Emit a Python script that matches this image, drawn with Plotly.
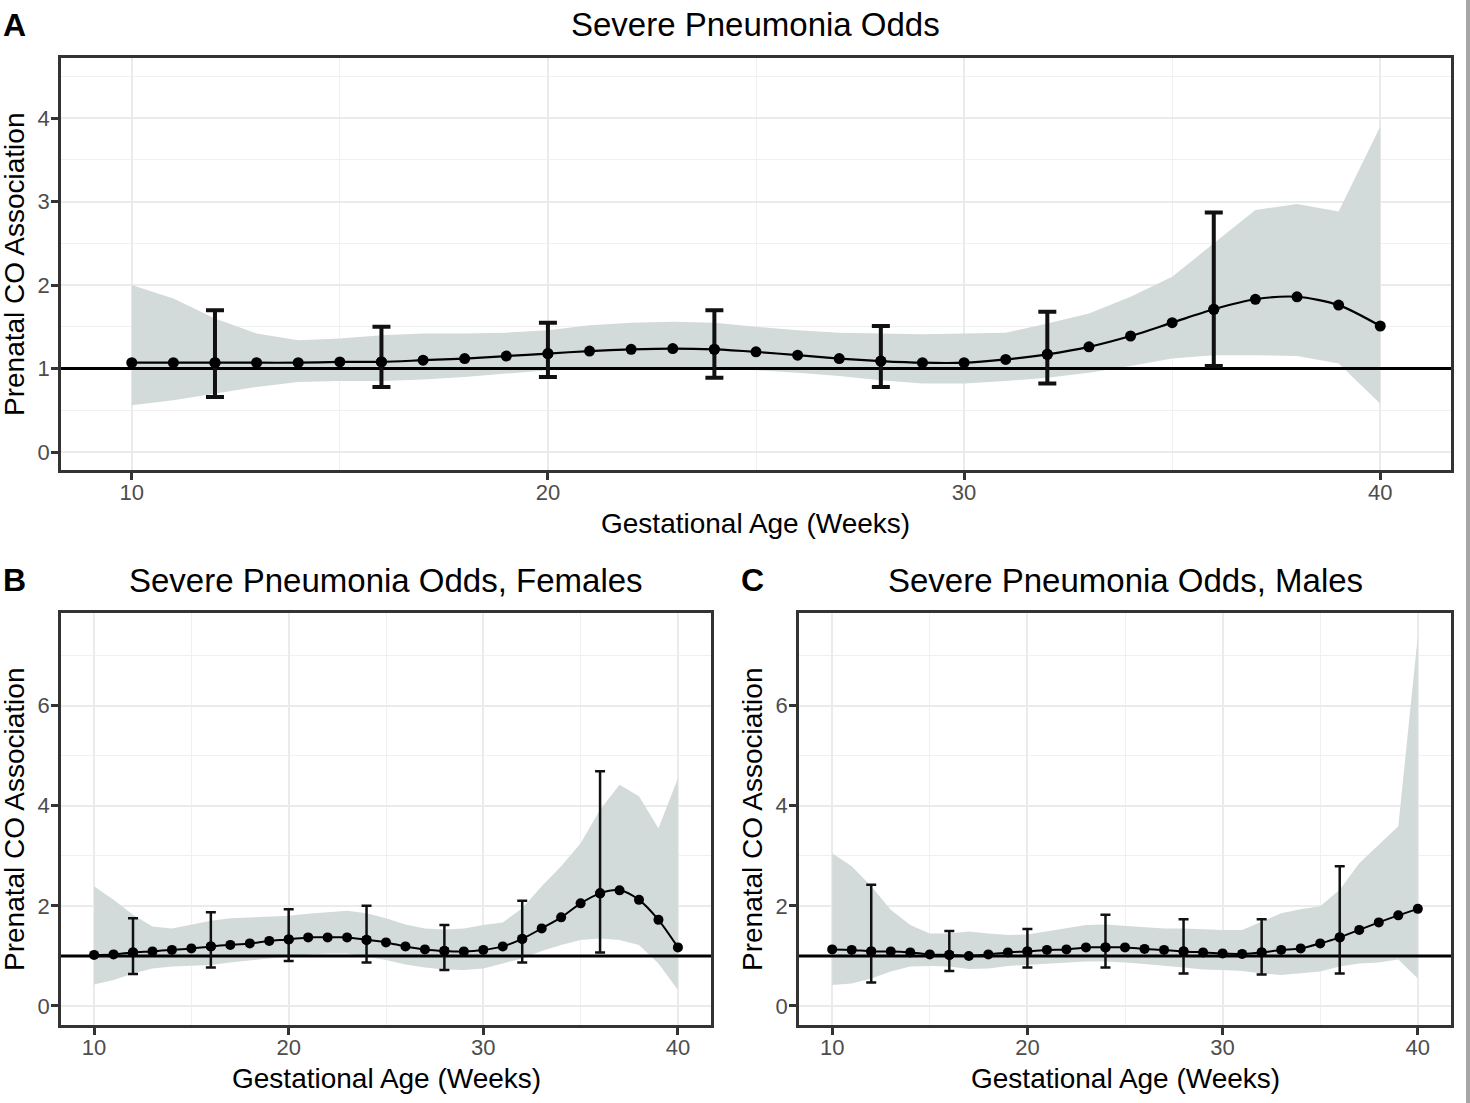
import plotly.graph_objects as go

# ---------------- data ----------------
weeks = list(range(10, 41))

# Panel A: all
a_est = [1.07, 1.07, 1.07, 1.07, 1.07, 1.08, 1.08, 1.10, 1.12, 1.15, 1.18, 1.21, 1.23, 1.24, 1.23,
         1.20, 1.16, 1.12, 1.09, 1.07, 1.07, 1.11, 1.17, 1.26, 1.39, 1.55, 1.71, 1.83, 1.86, 1.76, 1.51]
a_upper = [2.00, 1.84, 1.60, 1.42, 1.34, 1.36, 1.40, 1.42, 1.42, 1.43, 1.46, 1.52, 1.55, 1.56, 1.55,
           1.50, 1.46, 1.43, 1.42, 1.41, 1.42, 1.43, 1.54, 1.66, 1.86, 2.10, 2.50, 2.90, 2.97, 2.88, 3.90]
a_lower = [0.56, 0.62, 0.70, 0.78, 0.84, 0.85, 0.85, 0.87, 0.90, 0.94, 0.98, 1.00, 1.02, 1.02, 1.00,
           0.98, 0.95, 0.91, 0.86, 0.82, 0.82, 0.85, 0.89, 0.95, 1.03, 1.12, 1.16, 1.16, 1.15, 1.06, 0.58]

err_weeks = [12, 16, 20, 24, 28, 32, 36]
a_err_hi = [1.70, 1.50, 1.55, 1.70, 1.51, 1.68, 2.87]
a_err_lo = [0.66, 0.78, 0.90, 0.89, 0.78, 0.82, 1.03]

# Panel B: females
b_est = [1.02, 1.03, 1.07, 1.09, 1.12, 1.15, 1.19, 1.22, 1.25, 1.30, 1.33, 1.37, 1.37, 1.37, 1.32,
         1.27, 1.19, 1.13, 1.10, 1.09, 1.12, 1.19, 1.34, 1.55, 1.77, 2.05, 2.25, 2.31, 2.12, 1.72, 1.17]
b_upper = [2.39, 2.12, 1.82, 1.59, 1.55, 1.62, 1.70, 1.75, 1.77, 1.79, 1.80, 1.84, 1.87, 1.90, 1.85,
           1.75, 1.63, 1.55, 1.53, 1.55, 1.62, 1.67, 1.95, 2.39, 2.79, 3.25, 3.92, 4.42, 4.19, 3.55, 4.55]
b_lower = [0.43, 0.52, 0.65, 0.75, 0.79, 0.80, 0.82, 0.87, 0.92, 0.95, 0.99, 1.03, 1.05, 1.05, 0.99,
           0.92, 0.83, 0.77, 0.73, 0.72, 0.75, 0.85, 0.95, 1.10, 1.22, 1.32, 1.35, 1.32, 1.22, 0.85, 0.32]
b_err_hi = [1.75, 1.87, 1.93, 2.00, 1.62, 2.10, 4.69]
b_err_lo = [0.64, 0.77, 0.90, 0.87, 0.72, 0.87, 1.07]

# Panel C: males
c_est = [1.13, 1.12, 1.09, 1.09, 1.07, 1.03, 1.02, 1.00, 1.03, 1.07, 1.09, 1.12, 1.13, 1.17, 1.17,
         1.17, 1.14, 1.12, 1.09, 1.07, 1.05, 1.04, 1.07, 1.12, 1.15, 1.25, 1.37, 1.52, 1.67, 1.81, 1.94]
c_upper = [3.05, 2.79, 2.39, 1.92, 1.62, 1.45, 1.45, 1.49, 1.45, 1.42, 1.43, 1.49, 1.55, 1.62, 1.63,
           1.60, 1.57, 1.55, 1.55, 1.53, 1.52, 1.52, 1.69, 1.85, 1.93, 1.99, 2.32, 2.85, 3.22, 3.59, 7.39]
c_lower = [0.42, 0.45, 0.55, 0.69, 0.79, 0.80, 0.79, 0.74, 0.75, 0.80, 0.82, 0.85, 0.87, 0.89, 0.89,
           0.87, 0.84, 0.81, 0.77, 0.73, 0.72, 0.70, 0.65, 0.62, 0.65, 0.69, 0.79, 0.85, 0.87, 0.93, 0.55]
c_err_hi = [2.42, 1.50, 1.54, 1.82, 1.73, 1.73, 2.79]
c_err_lo = [0.47, 0.70, 0.77, 0.77, 0.65, 0.63, 0.65]

ref_value = 1

titles = ["Severe Pneumonia Odds", "Severe Pneumonia Odds, Females", "Severe Pneumonia Odds, Males"]
panel_letters = ["A", "B", "C"]
x_title = "Gestational Age (Weeks)"
y_title = "Prenatal CO Association"

# ---------------- layout constants ----------------
W, H = 1470, 1103
FONT = "Liberation Sans, Arial, sans-serif"
RIBBON = "rgb(211,219,218)"
X_RANGE = [8.3, 41.7]

def px_x(p):
    return p / W

def px_y(p):
    return 1 - p / H

panels = [
    dict(est=a_est, up=a_upper, lo=a_lower, ehi=a_err_hi, elo=a_err_lo,
         xdom=[px_x(61), px_x(1451)], ydom=[px_y(470), px_y(58)],
         yrange=[-0.215, 4.72], dtick=1, mdtick=0.5,
         msize=11, lwidth=2.2, ethick=4, ewidth=9),
    dict(est=b_est, up=b_upper, lo=b_lower, ehi=b_err_hi, elo=b_err_lo,
         xdom=[px_x(61), px_x(711)], ydom=[px_y(1025), px_y(613)],
         yrange=[-0.38, 7.85], dtick=2, mdtick=1,
         msize=10, lwidth=2, ethick=2.5, ewidth=5),
    dict(est=c_est, up=c_upper, lo=c_lower, ehi=c_err_hi, elo=c_err_lo,
         xdom=[px_x(799), px_x(1451)], ydom=[px_y(1025), px_y(613)],
         yrange=[-0.38, 7.85], dtick=2, mdtick=1,
         msize=10, lwidth=2, ethick=2.5, ewidth=5),
]

fig = go.Figure()
annotations = []

for i, p in enumerate(panels):
    sfx = "" if i == 0 else str(i + 1)
    xa, ya = "x" + sfx, "y" + sfx
    # ribbon
    fig.add_trace(go.Scatter(
        x=weeks + weeks[::-1], y=p["up"] + p["lo"][::-1],
        fill="toself", fillcolor=RIBBON, line=dict(width=0),
        mode="lines", hoverinfo="skip", showlegend=False, xaxis=xa, yaxis=ya))
    # reference line
    fig.add_trace(go.Scatter(
        x=X_RANGE, y=[ref_value, ref_value], mode="lines",
        line=dict(color="black", width=3), showlegend=False, hoverinfo="skip",
        xaxis=xa, yaxis=ya))
    # estimate line and points
    fig.add_trace(go.Scatter(
        x=weeks, y=p["est"], mode="lines+markers",
        line=dict(color="black", width=p["lwidth"], shape="spline", smoothing=0.8),
        marker=dict(color="black", size=p["msize"]),
        showlegend=False, xaxis=xa, yaxis=ya))
    # error bars
    est_at = [p["est"][weeks.index(w)] for w in err_weeks]
    fig.add_trace(go.Scatter(
        x=err_weeks, y=est_at, mode="markers",
        marker=dict(color="black", size=p["msize"]),
        error_y=dict(type="data", symmetric=False,
                     array=[h - e for h, e in zip(p["ehi"], est_at)],
                     arrayminus=[e - l for l, e in zip(p["elo"], est_at)],
                     color="#111111", thickness=p["ethick"], width=p["ewidth"]),
        showlegend=False, xaxis=xa, yaxis=ya))

    axis_common = dict(
        showline=True, linecolor="#333333", linewidth=2.5, mirror=True,
        ticks="outside", tickcolor="#333333", tickwidth=2.5, ticklen=7,
        tickfont=dict(family=FONT, size=22, color="#4d4d4d"),
        showgrid=True, gridcolor="#ebebeb", gridwidth=2, zeroline=False,
    )
    fig.layout["xaxis" + sfx] = dict(
        axis_common, domain=p["xdom"], range=X_RANGE, anchor=ya,
        tick0=10, dtick=10, ticklabelstandoff=-6,
        minor=dict(dtick=5, tick0=10, showgrid=True, gridcolor="#f0f0f0", gridwidth=1, ticklen=0))
    fig.layout["yaxis" + sfx] = dict(
        axis_common, domain=p["ydom"], range=p["yrange"], anchor=xa,
        tick0=0, dtick=p["dtick"], ticklabelstandoff=-3,
        minor=dict(dtick=p["mdtick"], tick0=0, showgrid=True, gridcolor="#f0f0f0", gridwidth=1, ticklen=0))

    # text positions (pixels)
    left_px = p["xdom"][0] * W
    right_px = p["xdom"][1] * W
    top_px = (1 - p["ydom"][1]) * H
    bot_px = (1 - p["ydom"][0]) * H
    cx = (left_px + right_px) / 2
    annotations.append(dict(text=titles[i], x=cx / W, y=px_y(top_px - 33), xref="paper", yref="paper",
                            xanchor="center", yanchor="middle", showarrow=False,
                            font=dict(family=FONT, size=33, color="black")))
    annotations.append(dict(text="<b>" + panel_letters[i] + "</b>", x=(left_px - 47) / W,
                            y=px_y(top_px - 33), xref="paper", yref="paper",
                            xanchor="center", yanchor="middle", showarrow=False,
                            font=dict(family=FONT, size=32, color="black")))
    annotations.append(dict(text=x_title, x=cx / W, y=px_y(bot_px + 53), xref="paper", yref="paper",
                            xanchor="center", yanchor="middle", showarrow=False,
                            font=dict(family=FONT, size=28, color="black")))
    annotations.append(dict(text=y_title, x=(left_px - 47) / W, y=px_y((top_px + bot_px) / 2),
                            xref="paper", yref="paper", textangle=-90,
                            xanchor="center", yanchor="middle", showarrow=False,
                            font=dict(family=FONT, size=28, color="black")))

fig.update_layout(
    width=W, height=H,
    margin=dict(l=0, r=0, t=0, b=0),
    paper_bgcolor="white", plot_bgcolor="white",
    annotations=annotations,
    shapes=[dict(type="rect", xref="paper", yref="paper", x0=px_x(1466), x1=1, y0=0, y1=1,
                 fillcolor="#a6a6a6", line=dict(width=0))],
)

fig.write_html("out.html", config={"displayModeBar": False},
               post_script="document.body.style.margin='0';document.body.style.overflow='hidden';")
